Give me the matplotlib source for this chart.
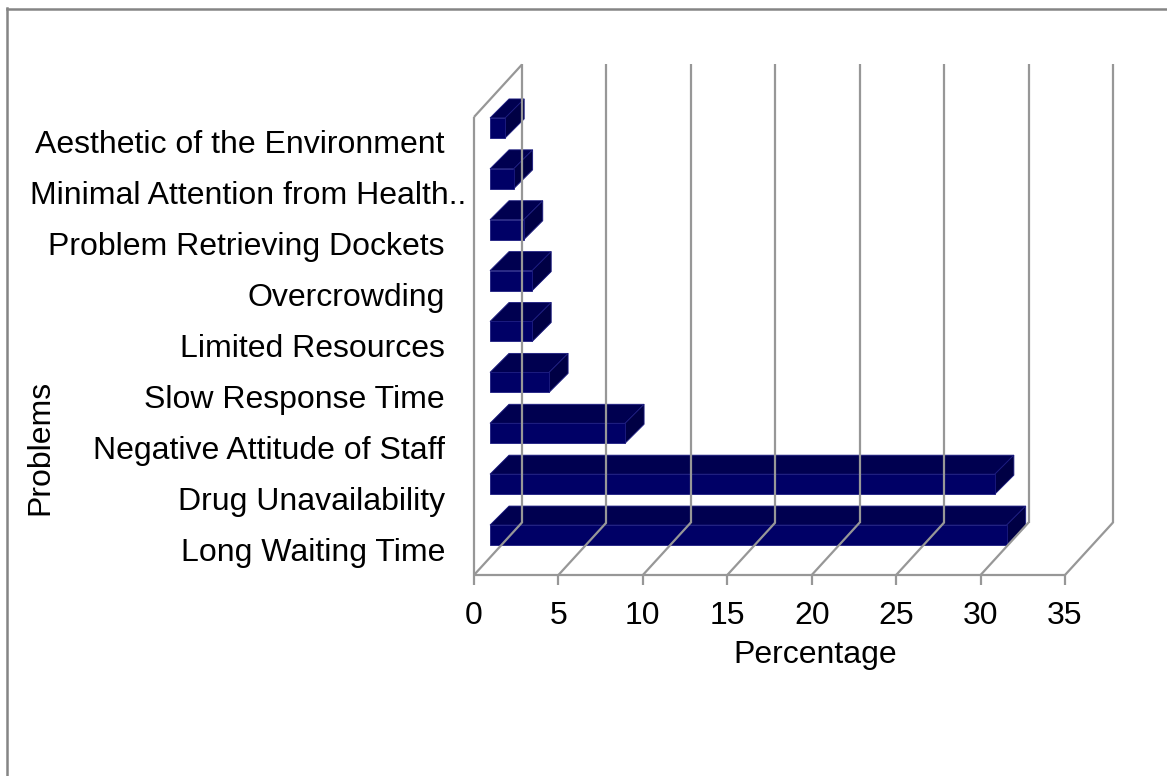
import matplotlib
matplotlib.use("Agg")
import matplotlib.pyplot as plt
from matplotlib.patches import Polygon
from matplotlib.lines import Line2D
import numpy as np

categories = ["Long Waiting Time", "Drug Unavailability", "Negative Attitude of Staff",
              "Slow Response Time", "Limited Resources", "Overcrowding",
              "Problem Retrieving Dockets", "Minimal Attention from Health..",
              "Aesthetic of the Environment"]
values = [30.6, 29.9, 8.0, 3.5, 2.5, 2.5, 2.0, 1.4, 0.9]
x_ticks = [0, 5, 10, 15, 20, 25, 30, 35]
x_label = "Percentage"
y_label = "Problems"

plt.rcParams['font.family'] = ['Liberation Sans', 'DejaVu Sans']

W, H = 1167, 776
fig = plt.figure(figsize=(W / 100, H / 100), dpi=100)
# axes = front plane of the 3D box
ax = fig.add_axes([474 / W, (H - 575) / H, 591 / W, 458 / H])
ax.set_xlim(0, 35)
ax.set_ylim(-0.5, len(categories) - 0.5)
ax.axis('off')

fig.canvas.draw()
T = ax.transData

DEPTH = (48, 52.5)          # pixel offset of back wall
BAR_FRONT = (16, 14.5)      # pixel offset of bar front face
BAR_DEPTH = (19, 19)        # bar top face depth
BAR_HALF = 10               # half height of front face (px)

grid_c = '#979797'
grid_lw = 1.6
FS = 23

def pt(x, y, off=(0, 0)):
    d = T.transform((x, y))
    return (d[0] + off[0], d[1] + off[1])

def line(p, q, **kw):
    fig.add_artist(Line2D([p[0], q[0]], [p[1], q[1]], transform=None,
                          color=grid_c, lw=grid_lw, solid_capstyle='butt', **kw))

ybot, ytop = ax.get_ylim()
# back wall gridlines and floor diagonals
for t in x_ticks:
    fb = pt(t, ybot)
    bb = pt(t, ybot, DEPTH)
    bt = pt(t, ytop, DEPTH)
    line(bb, bt)
    line(fb, bb)
    line(fb, (fb[0], fb[1] - 10))
# floor front edge
line(pt(0, ybot), pt(35, ybot))
# left wall
line(pt(0, ybot), pt(0, ytop))
line(pt(0, ytop), pt(0, ytop, DEPTH))

# bars
front_c = '#000066'
top_c = '#000050'
side_c = '#000044'
edge_c = '#1c1c80'
for i, v in enumerate(values):
    c = pt(0, i, BAR_FRONT)
    r = pt(v, i, BAR_FRONT)
    x0, x1 = c[0], r[0]
    yc = c[1]
    y0, y1 = yc - BAR_HALF, yc + BAR_HALF
    dx, dy = BAR_DEPTH
    top = [(x0, y1), (x1, y1), (x1 + dx, y1 + dy), (x0 + dx, y1 + dy)]
    side = [(x1, y0), (x1, y1), (x1 + dx, y1 + dy), (x1 + dx, y0 + dy)]
    front = [(x0, y0), (x1, y0), (x1, y1), (x0, y1)]
    for poly, col in ((top, top_c), (side, side_c), (front, front_c)):
        fig.add_artist(Polygon(poly, closed=True, transform=None, facecolor=col,
                               edgecolor=edge_c, lw=0.6, joinstyle='miter'))

# category labels
for i, name in enumerate(categories):
    p = pt(0, i)
    xr = 466 if name.endswith('..') else 445
    fig.text(xr / W, (p[1] - 3) / H, name, ha='right', va='center', fontsize=FS, color='black')

# x tick labels
for t in x_ticks:
    p = pt(t, ybot)
    fig.text(p[0] / W, (H - 616) / H, str(t), ha='center', va='center', fontsize=FS)

fig.text(815 / W, (H - 655) / H, x_label, ha='center', va='center', fontsize=FS)
fig.text(40 / W, (H - 447) / H, y_label, ha='center', va='center', rotation=90, fontsize=FS)

# outer chart border (top & left visible)
fig.add_artist(Line2D([7, 7], [0, H - 8], transform=None, color='#858585', lw=1.8))
fig.add_artist(Line2D([7, W], [H - 9, H - 9], transform=None, color='#858585', lw=1.8))

fig.savefig('out.png', dpi=100, facecolor='white')
